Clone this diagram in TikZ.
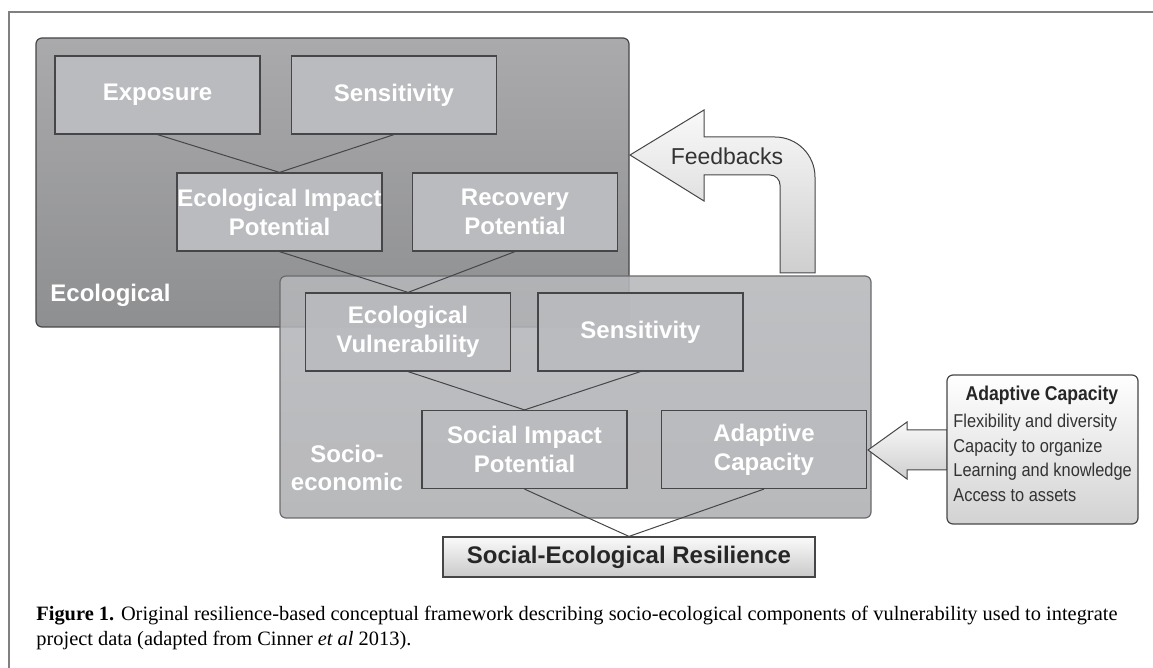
\documentclass[tikz,border=0pt]{standalone}
\usepackage{fontspec}
\setmainfont{Liberation Serif}
\newfontfamily\boxfont{Liberation Sans}
\newfontfamily\narrowfont[FakeStretch=0.88]{Liberation Sans}
\definecolor{ecotop}{RGB}{170,170,172}
\definecolor{ecobot}{RGB}{142,143,145}
\definecolor{boxgray}{RGB}{186,187,190}
\definecolor{sociogray}{RGB}{174,175,178}
\definecolor{edgegray}{RGB}{70,70,72}
\definecolor{framegray}{RGB}{128,128,128}
\begin{document}
\begin{tikzpicture}[x=0.5pt,y=-0.5pt,
  box/.style={draw=edgegray,line width=0.6pt,fill=boxgray,minimum width=102.5pt,
    minimum height=39pt,inner sep=0pt,align=center,text=white,
    font=\boxfont\bfseries\fontsize{12}{14.5}\selectfont},
  grouplabel/.style={text=white,align=center,inner sep=0pt,
    font=\boxfont\bfseries\fontsize{12}{14}\selectfont},
  link/.style={draw=edgegray,line width=0.5pt},
  bigarrow/.style={draw=edgegray,line width=0.5pt,top color=gray!5,bottom color=gray!38}]
  \useasboundingbox (0,0) rectangle (1153,668);
  % frame of the figure
  \draw [framegray,line width=0.8pt] (9,668) -- (9,12) -- (1153,12);
  % ecological part
  \path [draw=edgegray,line width=0.6pt,rounded corners=3pt,top color=ecotop,bottom color=ecobot]
    (36,38) rectangle (629,327);
  \node [box] (exposure) at (157.5,95) {Exposure};
  \node [box] (ecosens) at (394,95) {Sensitivity};
  \node [box] (impact) at (279.5,212) {Ecological Impact\\Potential};
  \node [box] (recovery) at (515,212) {Recovery\\Potential};
  \node [grouplabel,anchor=west] (ecolabel) at (50,295) {Ecological};
  \draw [link] (exposure.south) -- (impact.north) -- (ecosens.south);
  % feedback arrow
  \path [bigarrow] (630,155) -- (704,110) -- (704,137) -- (775,137)
    arc [start angle=90,end angle=0,radius=20pt] -- (815,273) -- (780,273) -- (780,185)
    arc [start angle=0,end angle=90,radius=5pt] -- (704,175) -- (704,201) -- cycle;
  \node [text=black!80,font=\boxfont\fontsize{11.5}{13}\selectfont] (feedback) at (727,156) {Feedbacks};
  % socio-economic part
  \begin{scope}[fill opacity=0.88,text opacity=1]
    \path [draw=edgegray!80,line width=0.6pt,rounded corners=3pt,top color=sociogray!90!white,bottom color=sociogray]
      (280,276) rectangle (871,518);
    \node [box] (vulner) at (408,332) {Ecological\\Vulnerability};
    \node [box] (socsens) at (640.5,332) {Sensitivity};
    \node [box] (socimpact) at (524.5,449.5) {Social Impact\\Potential};
    \node [box] (adapt) at (764,449.5) {Adaptive\\Capacity};
  \end{scope}
  \node [grouplabel] (soclabel) at (347,468) {Socio-\\economic};
  \draw [link] (recovery.south) -- (vulner.north) -- (impact.south);
  \draw [link] (vulner.south) -- (socimpact.north) -- (socsens.south);
  % result
  \node [draw=edgegray,line width=0.6pt,top color=gray!4,bottom color=gray!42,
    minimum width=186pt,minimum height=20pt,inner sep=0pt,
    font=\boxfont\bfseries\fontsize{12}{14}\selectfont,text=black!85] (result) at (629,557)
    {Social-Ecological Resilience};
  \draw [link] (socimpact.south) -- (result.north) -- (adapt.south);
  % adaptive capacity input
  \path [bigarrow] (868,450) -- (907,422) -- (907,430) -- (947,430) -- (947,470)
    -- (907,470) -- (907,479) -- cycle;
  \path [draw=edgegray,line width=0.6pt,rounded corners=3pt,top color=white,bottom color=gray!35]
    (947,375) rectangle (1138,524);
  \node [text=black!85,font=\narrowfont\bfseries\fontsize{10}{11}\selectfont] (actitle) at (1042,395) {Adaptive Capacity};
  \node [text=black!80,font=\narrowfont\fontsize{9.3}{12.25}\selectfont,align=left,anchor=north west,inner sep=0pt]
    (aclist) at (953,414) {Flexibility and diversity\\Capacity to organize\\Learning and knowledge\\Access to assets};
  % caption
  \node [anchor=base west,inner sep=0pt,font=\fontsize{10.2}{12.5}\selectfont] (cap1) at (36,621)
    {\textbf{Figure 1.} Original resilience-based conceptual framework describing socio-ecological components of vulnerability used to integrate};
  \node [anchor=base west,inner sep=0pt,font=\fontsize{10.2}{12.5}\selectfont] (cap2) at (36,646)
    {project data (adapted from Cinner \textit{et al} 2013).};
\end{tikzpicture}
\end{document}
